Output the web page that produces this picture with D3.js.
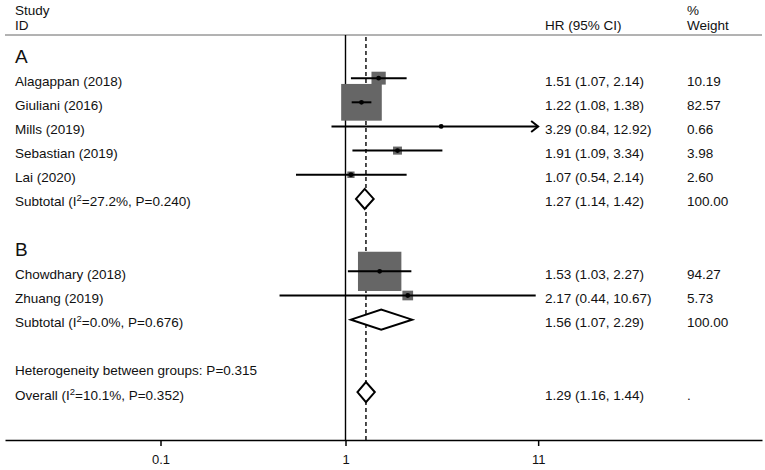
<!DOCTYPE html>
<html><head><meta charset="utf-8">
<script src="https://cdn.jsdelivr.net/npm/d3@7"></script>
<style>
html,body{margin:0;padding:0;background:#fff;}
text{font-family:"Liberation Sans",Arial,Helvetica,sans-serif;fill:#111;}
</style></head>
<body>
<svg id="chart" width="765" height="470"></svg>
<script>
// ---- data ----
const studies = ["Alagappan (2018)", "Giuliani (2016)", "Mills (2019)", "Sebastian (2019)", "Lai (2020)", "Chowdhary (2018)", "Zhuang (2019)"];
const studyRows = [1, 2, 3, 4, 5, 9, 10];
const hr = [1.51, 1.22, 3.29, 1.91, 1.07, 1.53, 2.17];
const lower = [1.07, 1.08, 0.84, 1.09, 0.54, 1.03, 0.44];
const upper = [2.14, 1.38, 12.92, 3.34, 2.14, 2.27, 10.67];
const weights = [10.19, 82.57, 0.66, 3.98, 2.60, 94.27, 5.73];

const groups = ["A", "B"];
const groupRows = [0, 8];
const subRows = [6, 11];
const subI2 = ["27.2%", "0.0%"];
const subP = ["0.240", "0.676"];
const subHR = [1.27, 1.56];
const subLower = [1.14, 1.07];
const subUpper = [1.42, 2.29];
const subWeight = ["100.00", "100.00"];

const hetText = "Heterogeneity between groups: P=0.315";
const hetRow = 13;
const overallRow = 14;
const overallI2 = "10.1%";
const overallP = "0.352";
const overallHR = 1.29, overallLower = 1.16, overallUpper = 1.44;
const overallWeight = ".";

const tickValues = [0.1, 1, 11];
const tickLabels = ["0.1", "1", "11"];

// ---- layout ----
const svg = d3.select("#chart");
const x = d3.scaleLog().domain([0.1, 10]).range([160.5, 530.5]);
const axisMax = 11;
const y = d3.scaleLinear().domain([0, 14]).range([54, 392.1]);
const boxW = d3.scaleSqrt().domain([0, 100]).range([0, 44.7]);
const boxH = d3.scaleSqrt().domain([0, 100]).range([0, 40.4]);
const fmt = d3.format(".2f");
const xLabel = 15, xHR = 545, xW = 687;
const axisY = 440, topY = 35;
const fs = "13.5px";
const tOff = 7.5;

// header
const hdr = svg.append("g");
hdr.append("text").attr("x", xLabel).attr("y", 15).style("font-size", fs).text("Study");
hdr.append("text").attr("x", xLabel).attr("y", 30).style("font-size", fs).text("ID");
hdr.append("text").attr("x", xHR).attr("y", 30).style("font-size", fs).text("HR (95% CI)");
hdr.append("text").attr("x", xW).attr("y", 15).style("font-size", fs).text("%");
hdr.append("text").attr("x", xW).attr("y", 30).style("font-size", fs).text("Weight");
svg.append("line").attr("x1", 5).attr("x2", 762).attr("y1", topY).attr("y2", topY)
  .attr("stroke", "#666").attr("stroke-width", 1);

// reference lines
svg.append("line").attr("x1", x(1)).attr("x2", x(1)).attr("y1", topY).attr("y2", axisY)
  .attr("stroke", "#000").attr("stroke-width", 1.4);
svg.append("line").attr("x1", x(overallHR)).attr("x2", x(overallHR)).attr("y1", topY + 2).attr("y2", axisY)
  .attr("stroke", "#000").attr("stroke-width", 1.4).attr("stroke-dasharray", "4,3");

// group labels
groups.forEach((g, i) => {
  svg.append("text").attr("x", xLabel).attr("y", y(groupRows[i]) + 9).style("font-size", "19px").text(g);
});

// studies
const st = svg.append("g");
studies.forEach((s, i) => {
  const cy = y(studyRows[i]);
  const w = boxW(weights[i]), h = boxH(weights[i]);
  st.append("rect").attr("x", x(hr[i]) - w / 2).attr("y", cy - h / 2).attr("width", w).attr("height", h)
    .attr("fill", "#666");
  const hiClip = Math.min(upper[i], axisMax);
  st.append("line").attr("x1", x(lower[i])).attr("x2", x(hiClip)).attr("y1", cy).attr("y2", cy)
    .attr("stroke", "#000").attr("stroke-width", 2);
  if (upper[i] > axisMax) {
    const tx = x(axisMax);
    st.append("path").attr("d", `M${tx - 7},${cy - 5.5} L${tx},${cy} L${tx - 7},${cy + 5.5}`)
      .attr("fill", "none").attr("stroke", "#000").attr("stroke-width", 2);
  }
  st.append("circle").attr("cx", x(hr[i])).attr("cy", cy).attr("r", 2.4).attr("fill", "#000");
  st.append("text").attr("x", xLabel).attr("y", cy + tOff).style("font-size", fs).text(s);
  st.append("text").attr("x", xHR).attr("y", cy + tOff).style("font-size", fs)
    .text(`${fmt(hr[i])} (${fmt(lower[i])}, ${fmt(upper[i])})`);
  st.append("text").attr("x", xW).attr("y", cy + tOff).style("font-size", fs).text(fmt(weights[i]));
});

function diamond(est, lo, hi, cy) {
  svg.append("path")
    .attr("d", `M${x(lo)},${cy} L${x(est)},${cy - 10} L${x(hi)},${cy} L${x(est)},${cy + 10} Z`)
    .attr("fill", "#fff").attr("stroke", "#000").attr("stroke-width", 2).attr("stroke-linejoin", "miter");
}
function i2Label(prefix, i2, p, cy) {
  const t = svg.append("text").attr("x", xLabel).attr("y", cy + tOff).style("font-size", fs);
  t.append("tspan").text(prefix + " (I");
  t.append("tspan").attr("dy", -5).style("font-size", "9.5px").text("2");
  t.append("tspan").attr("dy", 5).text(`=${i2}, P=${p})`);
}

// subtotals
groups.forEach((g, i) => {
  const cy = y(subRows[i]);
  diamond(subHR[i], subLower[i], subUpper[i], cy);
  i2Label("Subtotal", subI2[i], subP[i], cy);
  svg.append("text").attr("x", xHR).attr("y", cy + tOff).style("font-size", fs)
    .text(`${fmt(subHR[i])} (${fmt(subLower[i])}, ${fmt(subUpper[i])})`);
  svg.append("text").attr("x", xW).attr("y", cy + tOff).style("font-size", fs).text(subWeight[i]);
});

// heterogeneity + overall
svg.append("text").attr("x", xLabel).attr("y", y(hetRow) + tOff).style("font-size", fs).text(hetText);
const oy = y(overallRow);
diamond(overallHR, overallLower, overallUpper, oy);
i2Label("Overall", overallI2, overallP, oy);
svg.append("text").attr("x", xHR).attr("y", oy + tOff).style("font-size", fs)
  .text(`${fmt(overallHR)} (${fmt(overallLower)}, ${fmt(overallUpper)})`);
svg.append("text").attr("x", xW).attr("y", oy + tOff).style("font-size", fs).text(overallWeight);

// axis
const xAxisScale = x.copy().domain([x.invert(5), x.invert(762)]).range([5, 762]);
const ax = svg.append("g").attr("transform", `translate(0,${axisY})`)
  .call(d3.axisBottom(xAxisScale).tickValues(tickValues).tickSize(6).tickSizeOuter(0)
    .tickFormat((d, i) => tickLabels[i]));
ax.select(".domain").attr("stroke", "#000").attr("stroke-width", 1.5);
ax.selectAll(".tick line").attr("stroke", "#000").attr("stroke-width", 1.5);
ax.selectAll(".tick text").attr("fill", "#111").attr("dy", 0).attr("y", 24)
  .style("font-size", "13px").style("font-family", '"Liberation Sans",Arial,sans-serif');
</script>
</body></html>
